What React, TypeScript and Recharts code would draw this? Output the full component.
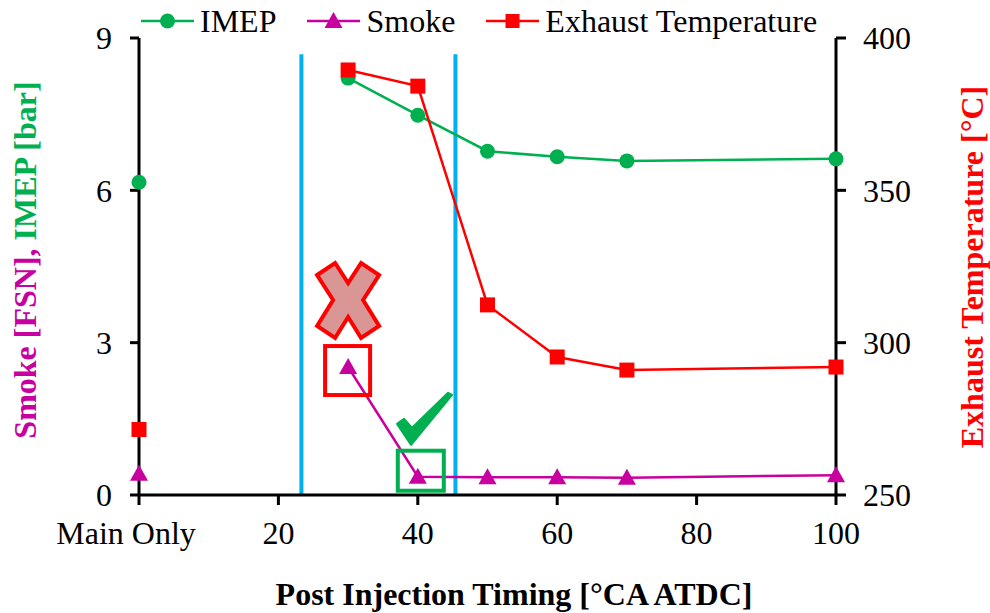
import React from "react";
import {
  ComposedChart,
  Line,
  XAxis,
  YAxis,
  Legend,
  ReferenceLine,
  ReferenceDot,
} from "recharts";

// post injection timings [°CA ATDC]
const postTiming = [30, 40, 50, 60, 70, 100];
const imepPost = [8.21, 7.48, 6.77, 6.66, 6.58, 6.62];
const smokePost = [2.52, 0.36, 0.35, 0.35, 0.34, 0.39];
const exhaustPost = [389.5, 384.2, 312.4, 295.3, 291.0, 292.0];

// main-injection-only reference case, plotted at x = 0
const mainOnlyImep = 6.16;
const mainOnlySmoke = 0.42;
const mainOnlyExhaust = 271.5;

const xTicks = [0, 20, 40, 60, 80, 100];
const xTickLabels = ["Main Only", "20", "40", "60", "80", "100"];
const leftTicks = [0, 3, 6, 9];
const rightTicks = [250, 300, 350, 400];

// blue window around the usable post timings
const windowEdges = [23.3, 45.4];
const windowTop = 8.68;

const GREEN = "#00b050";
const MAGENTA = "#c800a0";
const RED = "#ff0000";
const BLUE = "#00b0f0";
const FONT = "'Liberation Serif', 'Times New Roman', serif";
const FS = 32;

const data = [
  { t: 0, imepMain: mainOnlyImep, smokeMain: mainOnlySmoke, exhaustMain: mainOnlyExhaust },
  ...postTiming.map((t, i) => ({
    t,
    imep: imepPost[i],
    smoke: smokePost[i],
    exhaust: exhaustPost[i],
  })),
];

function circleDot(props: any) {
  const { cx, cy, index } = props;
  if (cx == null || cy == null) return <g key={`c${index}`} />;
  return <circle key={`c${index}`} cx={cx} cy={cy} r={7.5} fill={GREEN} />;
}

function triangleDot(props: any) {
  const { cx, cy, index } = props;
  if (cx == null || cy == null) return <g key={`t${index}`} />;
  return (
    <polygon
      key={`t${index}`}
      points={`${cx},${cy - 9} ${cx + 9},${cy + 7} ${cx - 9},${cy + 7}`}
      fill={MAGENTA}
    />
  );
}

function squareDot(props: any) {
  const { cx, cy, index } = props;
  if (cx == null || cy == null) return <g key={`s${index}`} />;
  return <rect key={`s${index}`} x={cx - 7.5} y={cy - 7.5} width={15} height={15} fill={RED} />;
}

function XTick(props: any) {
  const { x, y, payload } = props;
  const i = xTicks.indexOf(payload.value);
  return (
    <text
      x={payload.value === 0 ? x - 13 : x}
      y={y}
      dy="0.71em"
      textAnchor="middle"
      fill="#000"
      fontSize={FS}
      fontFamily={FONT}
    >
      {xTickLabels[i]}
    </text>
  );
}

// annotation shapes
function crossShape(props: any) {
  const { cx, cy } = props;
  const p = [
    [-31, -25], [-13, -37], [0, -17], [13, -37], [31, -25], [15, 0],
    [31, 26], [13, 38], [0, 17], [-13, 38], [-31, 26], [-15, 0],
  ];
  return (
    <polygon
      points={p.map(([dx, dy]) => `${cx + dx},${cy + dy}`).join(" ")}
      fill="#d99694"
      stroke={RED}
      strokeWidth={4}
      strokeLinejoin="miter"
    />
  );
}

function redBoxShape(props: any) {
  const { cx, cy } = props;
  return (
    <rect x={cx - 23} y={cy - 21} width={45} height={49} fill="none" stroke={RED} strokeWidth={4} />
  );
}

function greenBoxShape(props: any) {
  const { cx, cy } = props;
  return (
    <rect x={cx - 20} y={cy - 26} width={46} height={40} fill="none" stroke={GREEN} strokeWidth={4} />
  );
}

function checkShape(props: any) {
  const { cx, cy } = props;
  const p = [
    [-27, 5], [-20, 0], [-12, 9], [24, -26], [28, -24], [-13, 26],
  ];
  return (
    <polygon
      points={p.map(([dx, dy]) => `${cx + dx},${cy + dy}`).join(" ")}
      fill={GREEN}
      stroke={GREEN}
      strokeWidth={2}
      strokeLinejoin="round"
    />
  );
}

function LegendContent() {
  const items = [
    { name: "IMEP", color: GREEN, mark: "circle" },
    { name: "Smoke", color: MAGENTA, mark: "triangle" },
    { name: "Exhaust Temperature", color: RED, mark: "square" },
  ];
  return (
    <div style={{ display: "flex", alignItems: "center", paddingLeft: 141, height: 40 }}>
      {items.map((it) => (
        <div key={it.name} style={{ display: "flex", alignItems: "center", marginRight: 31 }}>
          <svg width={53} height={20}>
            <line x1={0} y1={10} x2={53} y2={10} stroke={it.color} strokeWidth={2.5} />
            {it.mark === "circle" && <circle cx={26.5} cy={10} r={7.5} fill={it.color} />}
            {it.mark === "triangle" && (
              <polygon points="26.5,1 35.5,17 17.5,17" fill={it.color} />
            )}
            {it.mark === "square" && <rect x={19.5} y={3} width={14} height={14} fill={it.color} />}
          </svg>
          <span
            style={{
              fontFamily: FONT,
              fontSize: FS,
              color: "#000",
              marginLeft: 6,
              lineHeight: "40px",
            }}
          >
            {it.name}
          </span>
        </div>
      ))}
    </div>
  );
}

const tickStyle = { fill: "#000", fontSize: FS, fontFamily: FONT };
const axisLine = { stroke: "#000", strokeWidth: 3 };

export default function App() {
  return (
    <div style={{ position: "absolute", left: 0, top: 0, width: 990, height: 613, background: "#fff" }}>
      <ComposedChart
        width={990}
        height={613}
        data={data}
        margin={{ top: 38, right: 0, bottom: 0, left: 0 }}
      >
        <XAxis
          dataKey="t"
          type="number"
          domain={[0, 100]}
          ticks={xTicks}
          tick={<XTick />}
          tickSize={10}
          tickMargin={16}
          axisLine={axisLine}
          tickLine={axisLine}
          height={118}
          label={{
            content: () => (
              <text
                x={514}
                y={605}
                textAnchor="middle"
                fontFamily={FONT}
                fontWeight="bold"
                fontSize={FS}
                fill="#000"
              >
                Post Injection Timing [°CA ATDC]
              </text>
            ),
          }}
        />
        <YAxis
          yAxisId="left"
          domain={[0, 9]}
          ticks={leftTicks}
          width={139}
          tick={tickStyle}
          tickSize={9}
          tickMargin={18}
          axisLine={axisLine}
          tickLine={axisLine}
          label={{
            content: () => (
              <text
                x={36}
                y={260}
                transform="rotate(-90, 36, 260)"
                textAnchor="middle"
                fontFamily={FONT}
                fontWeight="bold"
                fontSize={FS}
              >
                <tspan fill={MAGENTA}>Smoke [FSN], </tspan>
                <tspan fill={GREEN}>IMEP [bar]</tspan>
              </text>
            ),
          }}
        />
        <YAxis
          yAxisId="right"
          orientation="right"
          domain={[250, 400]}
          ticks={rightTicks}
          width={154}
          tick={tickStyle}
          tickSize={10}
          tickMargin={17}
          axisLine={axisLine}
          tickLine={axisLine}
          label={{
            content: () => (
              <text
                x={983}
                y={267}
                transform="rotate(-90, 983, 267)"
                textAnchor="middle"
                fontFamily={FONT}
                fontWeight="bold"
                fontSize={FS}
                fill={RED}
              >
                Exhaust Temperature [°C]
              </text>
            ),
          }}
        />
        <Legend
          verticalAlign="middle"
          align="center"
          layout="horizontal"
          wrapperStyle={{ top: 1, left: 0, width: 990, height: 40 }}
          content={() => <LegendContent />}
        />

        {windowEdges.map((x) => (
          <ReferenceLine
            key={x}
            yAxisId="left"
            segment={[{ x, y: 0 }, { x, y: windowTop }]}
            stroke={BLUE}
            strokeWidth={4}
          />
        ))}

        <Line yAxisId="left" dataKey="imep" stroke={GREEN} strokeWidth={2.5} dot={circleDot} isAnimationActive={false} />
        <Line yAxisId="left" dataKey="smoke" stroke={MAGENTA} strokeWidth={2.5} dot={triangleDot} isAnimationActive={false} />
        <Line yAxisId="right" dataKey="exhaust" stroke={RED} strokeWidth={2.5} dot={squareDot} isAnimationActive={false} />
        <Line yAxisId="left" dataKey="imepMain" stroke="none" dot={circleDot} isAnimationActive={false} />
        <Line yAxisId="left" dataKey="smokeMain" stroke="none" dot={triangleDot} isAnimationActive={false} />
        <Line yAxisId="right" dataKey="exhaustMain" stroke="none" dot={squareDot} isAnimationActive={false} />

        <ReferenceDot yAxisId="left" x={30} y={3.84} r={0} shape={crossShape} ifOverflow="visible" />
        <ReferenceDot yAxisId="left" x={30} y={smokePost[0]} r={0} shape={redBoxShape} ifOverflow="visible" />
        <ReferenceDot yAxisId="left" x={40.9} y={1.5} r={0} shape={checkShape} ifOverflow="visible" />
        <ReferenceDot yAxisId="left" x={40} y={smokePost[1]} r={0} shape={greenBoxShape} ifOverflow="visible" />
      </ComposedChart>
    </div>
  );
}
